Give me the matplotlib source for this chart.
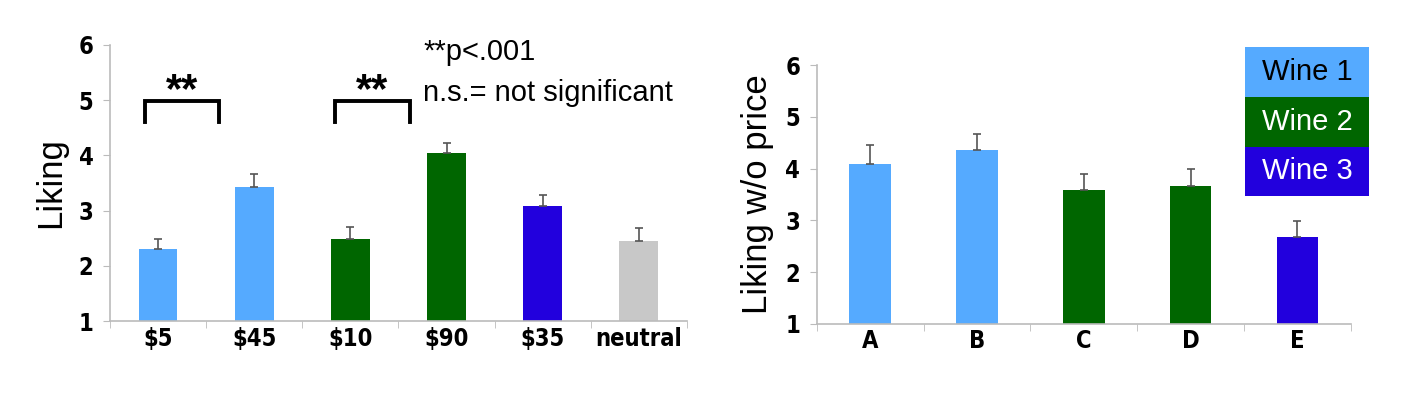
import matplotlib.pyplot as plt
from matplotlib import font_manager
from matplotlib.patches import Rectangle

# left panel: liking with price shown
price_labels = ['$5', '$45', '$10', '$90', '$35', 'neutral']
price_liking = [2.30, 3.42, 2.48, 4.04, 3.08, 2.45]
price_err = [0.18, 0.24, 0.22, 0.19, 0.21, 0.24]

# right panel: liking without price
wine_labels = ['A', 'B', 'C', 'D', 'E']
blind_liking = [4.09, 4.36, 3.59, 3.66, 2.67]
blind_err = [0.37, 0.31, 0.31, 0.33, 0.32]

legend_names = ['Wine 1', 'Wine 2', 'Wine 3']

light_blue = '#55AAFF'
green = '#006600'
blue = '#2200DD'
gray = '#C8C8C8'
price_colors = [light_blue, light_blue, green, green, blue, gray]
wine_colors = [light_blue, light_blue, green, green, blue]
legend_colors = [light_blue, green, blue]
legend_text_colors = ['black', 'white', 'white']

# pick a condensed face for the tick labels if one is installed
installed = {f.name for f in font_manager.fontManager.ttflist}
if 'Liberation Sans Narrow' in installed:
    narrow = ['Liberation Sans Narrow', 'DejaVu Sans']
    narrow_stretch = 'normal'
else:
    narrow = ['DejaVu Sans']
    narrow_stretch = 'condensed'
plain = ['Liberation Sans', 'DejaVu Sans']
axis_gray = '#BBBBBB'


def style_axis(ax, labels):
    n = len(labels)
    ax.set_xlim(-0.5, n - 0.5)
    ax.set_ylim(1, 6)
    ax.set_yticks(range(1, 7))
    ax.set_xticks(range(n))
    ax.set_xticklabels(labels)
    ax.set_xticks([i - 0.5 for i in range(n + 1)], minor=True)
    for lab in ax.get_yticklabels() + ax.get_xticklabels():
        lab.set_family(narrow)
        lab.set_stretch(narrow_stretch)
        lab.set_fontweight('bold')
        lab.set_fontsize(17)
    ax.tick_params(axis='x', which='major', length=0, pad=4)
    ax.tick_params(axis='x', which='minor', length=5, color=axis_gray)
    ax.tick_params(axis='y', length=5, color=axis_gray, pad=7)
    for side in ['top', 'right']:
        ax.spines[side].set_visible(False)
    for side in ['left', 'bottom']:
        ax.spines[side].set_color(axis_gray)
        ax.spines[side].set_linewidth(1.2)


fig = plt.figure(figsize=(14.13, 3.94), dpi=100)

ax1 = fig.add_axes([0.078, 0.185, 0.408, 0.701])
x1 = range(len(price_labels))
ax1.bar(x1, [v - 1 for v in price_liking], bottom=1, width=0.4, color=price_colors,
        yerr=[[0] * len(price_err), price_err], capsize=3,
        error_kw=dict(ecolor='#555555', elinewidth=1.2, capthick=1.2))
style_axis(ax1, price_labels)
ax1.set_ylabel('Liking', family=plain, fontsize=25, labelpad=8)

# significance brackets
for left, right in [(-0.14, 0.63), (1.84, 2.62)]:
    ax1.plot([left, left, right, right], [4.6, 4.98, 4.98, 4.6], color='black', lw=2.8,
             solid_joinstyle='miter', clip_on=False)
    ax1.text((left + right) / 2, 4.97, '**', ha='center', va='baseline', fontsize=30,
             fontweight='bold', family=plain)

ax1.text(2.76, 5.87, '**p<.001', ha='left', va='center', fontsize=21, family=plain)
ax1.text(2.76, 5.13, 'n.s.= not significant', ha='left', va='center', fontsize=21,
         family=plain)

ax2 = fig.add_axes([0.578, 0.178, 0.378, 0.657])
x2 = range(len(wine_labels))
ax2.bar(x2, [v - 1 for v in blind_liking], bottom=1, width=0.39, color=wine_colors,
        yerr=[[0] * len(blind_err), blind_err], capsize=3,
        error_kw=dict(ecolor='#555555', elinewidth=1.2, capthick=1.2))
style_axis(ax2, wine_labels)
ax2.set_ylabel('Liking w/o price', family=plain, fontsize=25, labelpad=8)

# colour key boxes
box_w = 0.232
box_h = 0.192
for i, (name, c, tc) in enumerate(zip(legend_names, legend_colors, legend_text_colors)):
    y0 = 1.069 - (i + 1) * box_h
    ax2.add_patch(Rectangle((0.802, y0), box_w, box_h, transform=ax2.transAxes,
                            facecolor=c, edgecolor='none', clip_on=False))
    ax2.text(0.802 + box_w / 2, y0 + box_h / 2, name, transform=ax2.transAxes,
             ha='center', va='center', fontsize=21, color=tc, family=plain)

fig.savefig('out.png', dpi=100)
